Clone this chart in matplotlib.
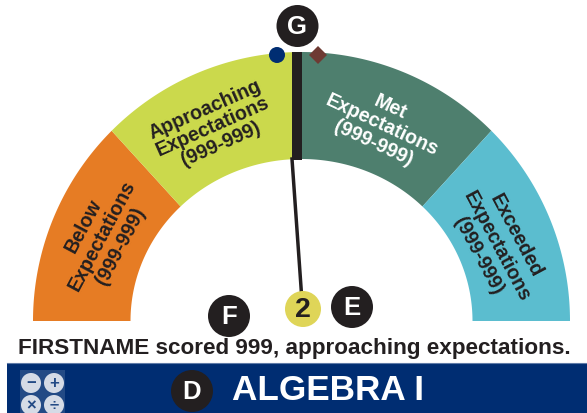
import matplotlib.pyplot as plt
import numpy as np
from matplotlib.patches import Rectangle, Circle, Polygon

plt.rcParams['font.family'] = ['Liberation Sans', 'DejaVu Sans']

# gauge bands, angles in degrees from the right
band_edges = [180, 135, 90, 45, 0]
band_colors = ['#e67c24', '#cbd94c', '#4e7f6e', '#5bbdcf']
band_lines = [['Below', 'Expectations', '(999-999)'],
              ['Approaching', 'Expectations', '(999-999)'],
              ['Met', 'Expectations', '(999-999)'],
              ['Exceeded', 'Expectations', '(999-999)']]
band_text_colors = ['#231f20', '#231f20', 'white', '#231f20']
score_label = '2'
summary = 'FIRSTNAME scored 999, approaching expectations.'
title = 'ALGEBRA I'
icon_signs = ['−', '+', '×', '÷']

W, H = 587, 414
dark = '#231f20'
navy = '#002d72'
fig = plt.figure(figsize=(W / 100, H / 100), dpi=100)
ax = fig.add_axes([0, 0, 1, 1])
ax.set_xlim(0, W)
ax.set_ylim(H, 0)
ax.axis('off')

cx, cy = 301.5, 322


def arc(rx, ry, a):
    return np.column_stack([cx + rx * np.cos(np.radians(a)), cy - ry * np.sin(np.radians(a))])


for i, col in enumerate(band_colors):
    a = np.linspace(band_edges[i], band_edges[i + 1], 80)
    ring = np.vstack([arc(268.5, 269, a), arc(171, 162, a[::-1])])
    ax.add_patch(Polygon(ring, closed=True, fc=col, ec='none'))

# band text, middle line position, rotation and line spacing
label_pos = [(100, 235, 62, 21), (212, 125, 24, 19), (383, 123, -25, 20), (499, 245, -62, 21)]
for (x, y, rot, step), lines, col in zip(label_pos, band_lines, band_text_colors):
    for j, s in enumerate(lines):
        off = (j - 1) * step
        ax.text(x + off * np.sin(np.radians(rot)), y + off * np.cos(np.radians(rot)), s,
                rotation=rot, ha='center', va='center_baseline', rotation_mode='anchor',
                fontsize=14.1, fontweight='bold', color=col, zorder=2)

# divider and needle
ax.add_patch(Rectangle((292.3, 53), 9.7, 107.5, fc=dark, ec='none', zorder=3))
ax.plot([292, 301.5], [160, 295], color=dark, lw=2.5, zorder=3)

# markers beside the divider
ax.add_patch(Circle((277, 56), 8, fc=navy, ec='none', zorder=4))
ax.add_patch(Polygon([(318, 47), (327, 56), (318, 65), (309, 56)], fc='#6e3a33', ec='none', zorder=4))


def badge(x, y, r, s, fc=dark, col='white', fs=18.5):
    ax.add_patch(Circle((x, y), r, fc=fc, ec='none', zorder=5))
    ax.text(x, y + 0.5, s, ha='center', va='center', color=col, fontsize=fs, fontweight='bold', zorder=6)


badge(297.5, 27, 21, 'G')
badge(352, 308, 21, 'E')
badge(229, 317, 21, 'F')
badge(303, 310, 18, score_label, fc='#dfd558', col=dark, fs=20.5)

ax.text(294.5, 349, summary, ha='center', va='center', fontsize=16.2, fontweight='bold', color=dark)

# header bar
ax.add_patch(Rectangle((7, 364), 580, 50, fc=navy, ec='none'))
ax.plot([7, 587], [364, 364], color='#5f7ba8', lw=0.8)
badge(192, 392, 21, 'D')
ax.text(328, 391, title, ha='center', va='center', fontsize=25.3, fontweight='bold', color='white')

# calculator icon
ax.add_patch(Rectangle((20, 371), 45, 43, fc='#234a85', ec='none', zorder=4))
for (x, y), s in zip([(31, 384), (54, 384), (31, 406), (54, 406)], icon_signs):
    ax.add_patch(Circle((x, y), 10, fc='#d5dbe6', ec='none', zorder=5))
    ax.text(x, y, s, ha='center', va='center', fontsize=12, fontweight='bold', color='#234a85', zorder=6)

fig.savefig('out.png', dpi=100)
